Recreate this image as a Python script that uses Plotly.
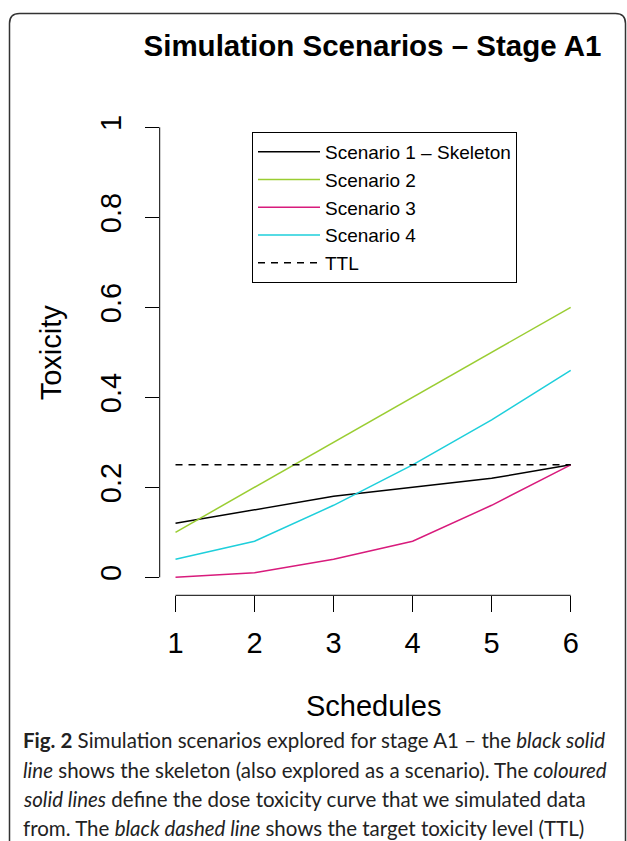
import plotly.graph_objects as go

# ---- data ----
schedules = [1, 2, 3, 4, 5, 6]
scenario1 = [0.12, 0.15, 0.18, 0.20, 0.22, 0.25]
scenario2 = [0.10, 0.20, 0.30, 0.40, 0.50, 0.60]
scenario3 = [0.00, 0.01, 0.04, 0.08, 0.16, 0.25]
scenario4 = [0.04, 0.08, 0.16, 0.25, 0.35, 0.46]
ttl = 0.25
series_names = ["Scenario 1 \u2013 Skeleton", "Scenario 2", "Scenario 3", "Scenario 4"]
y_ticks = [0, 0.2, 0.4, 0.6, 0.8, 1]
y_ticktext = ["0", "0.2", "0.4", "0.6", "0.8", "1"]

W, H = 627, 841
colors = ["#000000", "#9ACD32", "#D81B7C", "#1ECFDB"]
FONT = "Liberation Sans, Arial, sans-serif"

def px(x):
    return x / W

def py(y):
    return 1 - y / H

# plot region (pixels)
L, R, T, B = 159.7, 586.5, 109.3, 595.3

fig = go.Figure()
for name, vals, c in zip(series_names, [scenario1, scenario2, scenario3, scenario4], colors):
    fig.add_trace(go.Scatter(x=schedules, y=vals, mode="lines", name=name,
                             line=dict(color=c, width=1.5)))
fig.add_trace(go.Scatter(x=[schedules[0], schedules[-1]], y=[ttl, ttl], mode="lines", name="TTL",
                         line=dict(color="#000000", width=1.5, dash="7px,6px")))

fig.update_layout(
    width=W, height=H,
    margin=dict(l=0, r=0, t=0, b=0),
    paper_bgcolor="white", plot_bgcolor="white",
    font=dict(family=FONT, size=29, color="black"),
    title=dict(text="<b>Simulation Scenarios \u2013 Stage A1</b>", x=px(372.5), y=py(46),
               xanchor="center", yanchor="middle", xref="paper", yref="paper",
               font=dict(family=FONT, size=29.5, color="black")),
    xaxis=dict(domain=[px(L), px(R)], range=[0.8, 6.2], tickvals=schedules,
               ticks="outside", ticklen=16, tickwidth=1, tickcolor="black",
               showline=False, showgrid=False, zeroline=False,
               tickfont=dict(size=29), ticklabelstandoff=6),
    yaxis=dict(domain=[py(B), py(T)], range=[-0.04, 1.04], tickvals=y_ticks, ticktext=y_ticktext,
               ticks="outside", ticklen=14, tickwidth=1, tickcolor="black", tickangle=-90,
               showline=False, showgrid=False, zeroline=False,
               tickfont=dict(size=29), ticklabelstandoff=12),
    legend=dict(x=px(252), y=py(132), xanchor="left", yanchor="top",
                bordercolor="black", borderwidth=1, bgcolor="white",
                font=dict(family=FONT, size=19), itemwidth=62, tracegroupgap=0),
    showlegend=True,
)

# axis lines spanning only the tick range (R style)
fig.add_shape(type="line", xref="x", yref="paper", x0=schedules[0], x1=schedules[-1],
              y0=py(B), y1=py(B), line=dict(color="black", width=1))
fig.add_shape(type="line", xref="paper", yref="y", x0=px(L), x1=px(L),
              y0=y_ticks[0], y1=y_ticks[-1], line=dict(color="black", width=1))

# axis titles
fig.add_annotation(text="Schedules", xref="paper", yref="paper", x=px((L + R) / 2), y=py(706),
                   showarrow=False, font=dict(family=FONT, size=29), xanchor="center", yanchor="middle")
fig.add_annotation(text="Toxicity", xref="paper", yref="paper", x=px(51), y=py((T + B) / 2),
                   showarrow=False, textangle=-90, font=dict(family=FONT, size=29),
                   xanchor="center", yanchor="middle")

# rounded figure border
r = 10
x0b, y0b, x1b, y1b = 9.5, 13.5, 625.5, 860
path = (f"M {px(x0b)},{py(y1b)} L {px(x0b)},{py(y0b + r)} "
        f"Q {px(x0b)},{py(y0b)} {px(x0b + r)},{py(y0b)} "
        f"L {px(x1b - r)},{py(y0b)} Q {px(x1b)},{py(y0b)} {px(x1b)},{py(y0b + r)} "
        f"L {px(x1b)},{py(y1b)}")
fig.add_shape(type="path", xref="paper", yref="paper", path=path,
              line=dict(color="#333333", width=1.5))

# caption
caption_lines = [
    "<b>Fig. 2</b> Simulation scenarios explored for stage A1 \u2013 the <i>black solid</i>",
    "<i>line</i> shows the skeleton (also explored as a scenario). The <i>coloured</i>",
    "<i>solid lines</i> define the dose toxicity curve that we simulated data",
    "from. The <i>black dashed line</i> shows the target toxicity level (TTL)",
]
caption_y = [740, 769.5, 799, 828]
for line, yy in zip(caption_lines, caption_y):
    fig.add_annotation(text=line, xref="paper", yref="paper", x=px(21), y=py(yy),
                       xanchor="left", yanchor="middle", showarrow=False, align="left",
                       font=dict(family="Lato, Open Sans, sans-serif", size=20.5, color="#222222"))

fig.write_html("out.html", post_script="document.body.style.margin='0px';",
               config={"displayModeBar": False})
